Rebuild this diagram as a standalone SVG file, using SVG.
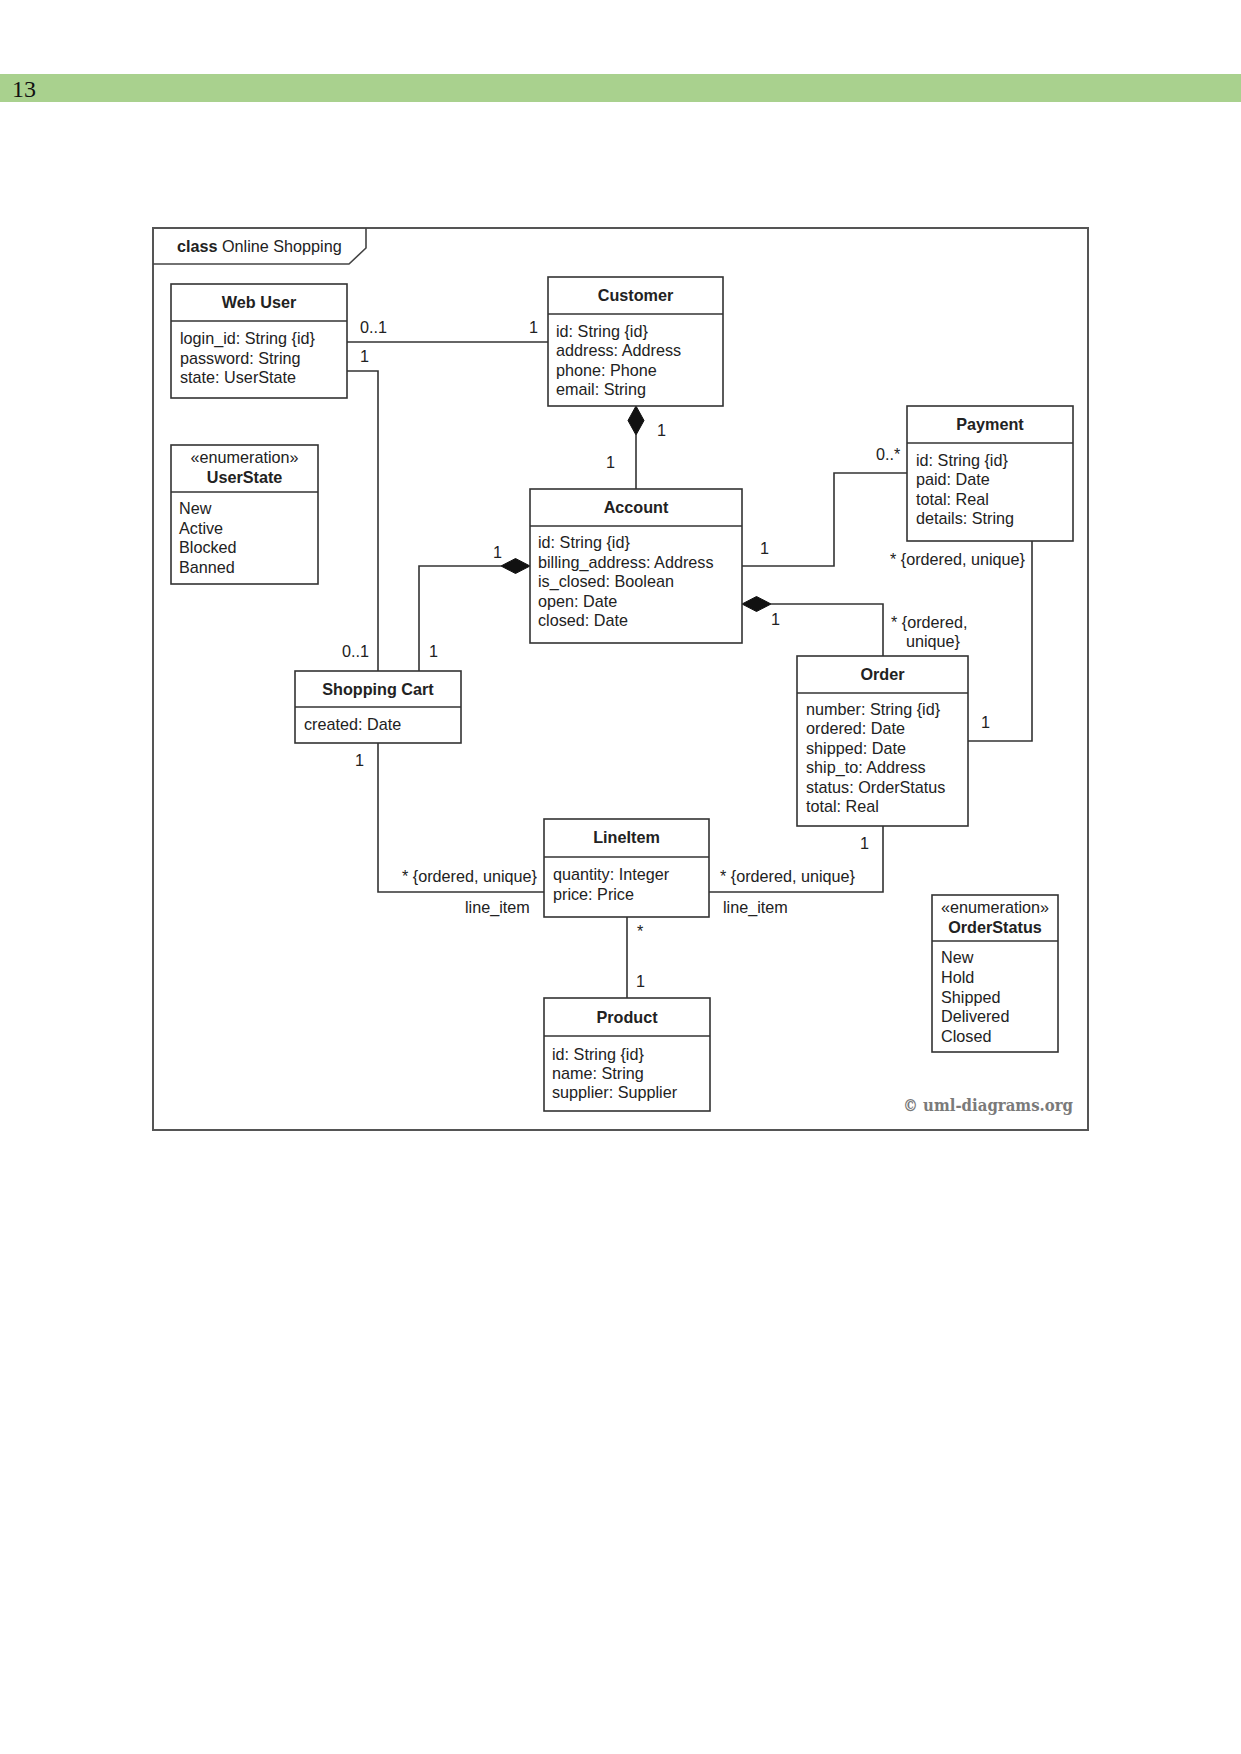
<svg xmlns="http://www.w3.org/2000/svg" width="1241" height="1754" viewBox="0 0 1241 1754">
<style>
.box{fill:#fff;stroke:#333;stroke-width:1.6}
.div{stroke:#333;stroke-width:1.6}
.t{font-family:"Liberation Sans",Arial,sans-serif;font-size:16.2px;fill:#222}
.b{font-weight:bold}
.c{text-anchor:middle}
.conn{fill:none;stroke:#333;stroke-width:1.6}
.dia{fill:#111;stroke:#111;stroke-width:1}
</style>
<rect x="0" y="74" width="1241" height="28" fill="#a9d18e"/>
<text x="12" y="97" font-family="'Liberation Serif',serif" font-size="24" fill="#111">13</text>

<g id="frame">
<rect x="153" y="228" width="935" height="902" fill="#fff" stroke="#555" stroke-width="2"/>
<path d="M153,264 H349 L366,248 V228" fill="none" stroke="#444" stroke-width="1.6"/>
<text class="t" x="177" y="252"><tspan class="b">class</tspan> Online Shopping</text>
</g>

<g id="connectors">
<line class="conn" x1="347" y1="342" x2="548" y2="342"/>
<polyline class="conn" points="347,371 378,371 378,671"/>
<line class="conn" x1="636" y1="435" x2="636" y2="489"/>
<polygon class="dia" points="636,406 644,420.5 636,435 628,420.5"/>
<polyline class="conn" points="419,671 419,566 501,566"/>
<polygon class="dia" points="530,566 515.5,558.5 501,566 515.5,573.5"/>
<polyline class="conn" points="742,566 834,566 834,473 907,473"/>
<polygon class="dia" points="742,604 756.5,596.5 771,604 756.5,611.5"/>
<polyline class="conn" points="771,604 883,604 883,656"/>
<polyline class="conn" points="1032,541 1032,741 968,741"/>
<polyline class="conn" points="378,743 378,892 544,892"/>
<polyline class="conn" points="883,826 883,892 709,892"/>
<line class="conn" x1="627" y1="917" x2="627" y2="998"/>
<g class="t">
<text x="360" y="333">0..1</text>
<text x="529" y="333">1</text>
<text x="360" y="362">1</text>
<text x="657" y="436">1</text>
<text x="606" y="468">1</text>
<text x="493" y="558">1</text>
<text x="342" y="657">0..1</text>
<text x="429" y="657">1</text>
<text x="876" y="460">0..*</text>
<text x="760" y="554">1</text>
<text x="771" y="625">1</text>
<text x="891" y="628">* {ordered,</text>
<text x="906" y="647">unique}</text>
<text x="890" y="565">* {ordered, unique}</text>
<text x="981" y="728">1</text>
<text x="355" y="766">1</text>
<text x="402" y="882">* {ordered, unique}</text>
<text x="465" y="913">line_item</text>
<text x="720" y="882">* {ordered, unique}</text>
<text x="723" y="913">line_item</text>
<text x="637" y="937">*</text>
<text x="636" y="987">1</text>
<text x="860" y="849">1</text>
</g>
</g>

<g id="WebUser">
<rect class="box" x="171" y="284" width="176" height="114"/>
<line class="div" x1="171" y1="321" x2="347" y2="321"/>
<text class="t b c" x="259" y="308">Web User</text>
<text class="t" x="180" y="344">login_id: String {id}</text>
<text class="t" x="180" y="364">password: String</text>
<text class="t" x="180" y="383">state: UserState</text>
</g>

<g id="Customer">
<rect class="box" x="548" y="277" width="175" height="129"/>
<line class="div" x1="548" y1="314" x2="723" y2="314"/>
<text class="t b c" x="635.5" y="301">Customer</text>
<text class="t" x="556" y="337">id: String {id}</text>
<text class="t" x="556" y="356">address: Address</text>
<text class="t" x="556" y="376">phone: Phone</text>
<text class="t" x="556" y="395">email: String</text>
</g>

<g id="UserState">
<rect class="box" x="171" y="445" width="147" height="139"/>
<line class="div" x1="171" y1="492" x2="318" y2="492"/>
<text class="t c" x="244.5" y="463">«enumeration»</text>
<text class="t b c" x="244.5" y="483">UserState</text>
<text class="t" x="179" y="514">New</text>
<text class="t" x="179" y="534">Active</text>
<text class="t" x="179" y="553">Blocked</text>
<text class="t" x="179" y="573">Banned</text>
</g>

<g id="Account">
<rect class="box" x="530" y="489" width="212" height="154"/>
<line class="div" x1="530" y1="526" x2="742" y2="526"/>
<text class="t b c" x="636" y="513">Account</text>
<text class="t" x="538" y="548">id: String {id}</text>
<text class="t" x="538" y="568">billing_address: Address</text>
<text class="t" x="538" y="587">is_closed: Boolean</text>
<text class="t" x="538" y="607">open: Date</text>
<text class="t" x="538" y="626">closed: Date</text>
</g>

<g id="Payment">
<rect class="box" x="907" y="406" width="166" height="135"/>
<line class="div" x1="907" y1="443" x2="1073" y2="443"/>
<text class="t b c" x="990" y="430">Payment</text>
<text class="t" x="916" y="466">id: String {id}</text>
<text class="t" x="916" y="485">paid: Date</text>
<text class="t" x="916" y="505">total: Real</text>
<text class="t" x="916" y="524">details: String</text>
</g>

<g id="ShoppingCart">
<rect class="box" x="295" y="671" width="166" height="72"/>
<line class="div" x1="295" y1="707" x2="461" y2="707"/>
<text class="t b c" x="378" y="695">Shopping Cart</text>
<text class="t" x="304" y="730">created: Date</text>
</g>

<g id="Order">
<rect class="box" x="797" y="656" width="171" height="170"/>
<line class="div" x1="797" y1="693" x2="968" y2="693"/>
<text class="t b c" x="882.5" y="680">Order</text>
<text class="t" x="806" y="715">number: String {id}</text>
<text class="t" x="806" y="734">ordered: Date</text>
<text class="t" x="806" y="754">shipped: Date</text>
<text class="t" x="806" y="773">ship_to: Address</text>
<text class="t" x="806" y="793">status: OrderStatus</text>
<text class="t" x="806" y="812">total: Real</text>
</g>

<g id="LineItem">
<rect class="box" x="544" y="819" width="165" height="98"/>
<line class="div" x1="544" y1="857" x2="709" y2="857"/>
<text class="t b c" x="626.5" y="843">LineItem</text>
<text class="t" x="553" y="880">quantity: Integer</text>
<text class="t" x="553" y="900">price: Price</text>
</g>

<g id="Product">
<rect class="box" x="544" y="998" width="166" height="113"/>
<line class="div" x1="544" y1="1036" x2="710" y2="1036"/>
<text class="t b c" x="627" y="1023">Product</text>
<text class="t" x="552" y="1060">id: String {id}</text>
<text class="t" x="552" y="1079">name: String</text>
<text class="t" x="552" y="1098">supplier: Supplier</text>
</g>

<g id="OrderStatus">
<rect class="box" x="932" y="895" width="126" height="157"/>
<line class="div" x1="932" y1="941" x2="1058" y2="941"/>
<text class="t c" x="995" y="913">«enumeration»</text>
<text class="t b c" x="995" y="933">OrderStatus</text>
<text class="t" x="941" y="963">New</text>
<text class="t" x="941" y="983">Hold</text>
<text class="t" x="941" y="1003">Shipped</text>
<text class="t" x="941" y="1022">Delivered</text>
<text class="t" x="941" y="1042">Closed</text>
</g>

<text x="903" y="1111" font-family="'DejaVu Serif',serif" font-weight="bold" font-size="16" fill="#7a7a7a" textLength="170" lengthAdjust="spacingAndGlyphs">© uml-diagrams.org</text>
</svg>
